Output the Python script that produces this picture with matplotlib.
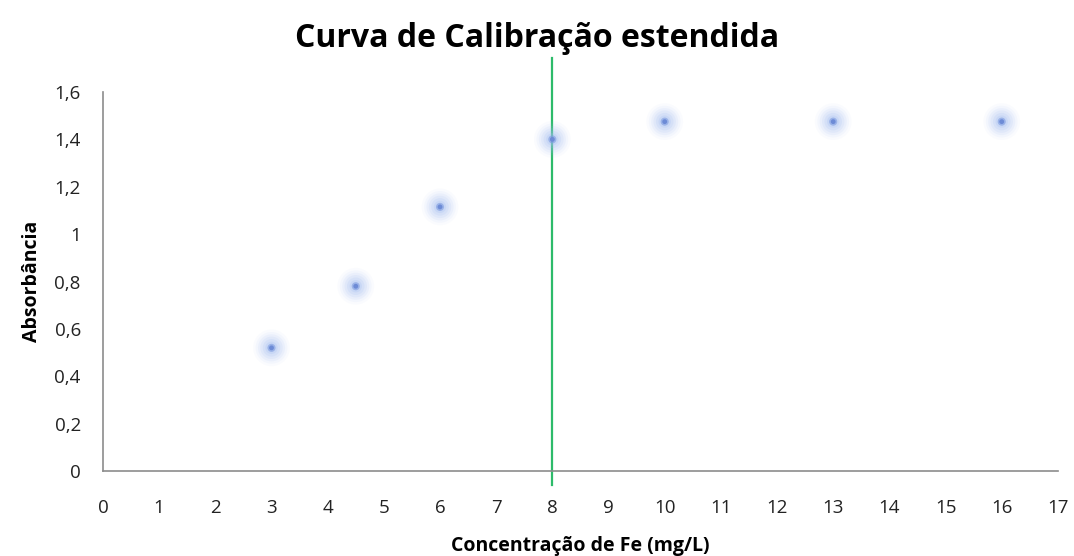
import matplotlib
matplotlib.use('Agg')
import matplotlib.pyplot as plt

plt.rcParams['font.family'] = ['Open Sans', 'DejaVu Sans']

conc = [3, 4.5, 6, 8, 10, 13, 16]  # mg/L
absorb = [0.52, 0.78, 1.115, 1.40, 1.475, 1.475, 1.475]
xticks = list(range(0, 18))
yticks = [0, 0.2, 0.4, 0.6, 0.8, 1.0, 1.2, 1.4, 1.6]
ylabels = ['0', '0,2', '0,4', '0,6', '0,8', '1', '1,2', '1,4', '1,6']

fig = plt.figure(figsize=(10.74, 5.56), dpi=100)
ax = fig.add_axes([0.0959, 0.1529, 0.8891, 0.6816])

# glowing markers, drawn as stacked soft layers
for s, a in [(700, 0.05), (520, 0.08), (380, 0.11), (260, 0.14), (160, 0.18), (80, 0.25)]:
    ax.scatter(conc, absorb, s=s, color='#a4bff3', alpha=a, edgecolors='none', zorder=3)
ax.scatter(conc, absorb, s=34, color='#7d9be0', alpha=0.6, edgecolors='none', zorder=4)
ax.scatter(conc, absorb, s=12, color='#6d8bd6', edgecolors='none', zorder=4)

ax.axvline(8, ymin=-0.037, ymax=1.09, color='#2dbb6a', lw=1.6, clip_on=False, zorder=2)

ax.set_xlim(0, 17)
ax.set_ylim(0, 1.6)
ax.set_xticks(xticks)
ax.set_yticks(yticks)
ax.set_yticklabels(ylabels)
ax.tick_params(length=0, labelsize=13.5, colors='#222222', pad=16)
ax.tick_params(axis='x', pad=20)
for sp in ['top', 'right']:
    ax.spines[sp].set_visible(False)
for sp in ['left', 'bottom']:
    ax.spines[sp].set_color('#8c8c8c')
    ax.spines[sp].set_linewidth(1.2)

ax.set_xlabel('Concentração de Fe (mg/L)', fontsize=14, fontweight='bold', labelpad=14)
ax.set_ylabel('Absorbância', fontsize=14, fontweight='bold', labelpad=9)
fig.suptitle('Curva de Calibração estendida', fontsize=23, fontweight='bold', y=0.96)

fig.savefig('out.png', dpi=100)
